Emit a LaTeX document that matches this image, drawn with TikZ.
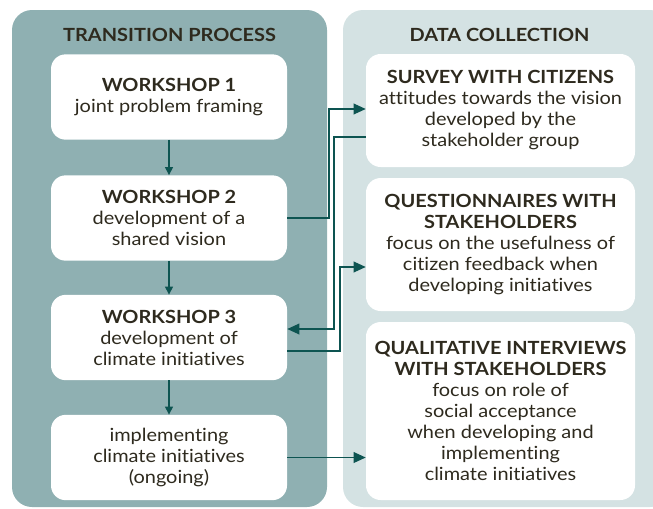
\documentclass[tikz,border=0pt]{standalone}
\usepackage{fontspec}
\setmainfont{Lato}[FakeStretch=1.1,Ligatures=NoCommon]
\usetikzlibrary{arrows.meta}

\definecolor{procfill}{HTML}{8FB0B2}
\definecolor{datafill}{HTML}{D4E2E3}
\definecolor{linkcol}{HTML}{0D5451}
\definecolor{ink}{HTML}{2E2A1E}

\begin{document}
\begin{tikzpicture}
[x=0.75pt,y=-0.75pt,
	every node/.style={text=ink,align=center,inner sep=0pt,
		font=\fontsize{13.6}{15.75}\selectfont},
	stage/.style={fill=white,rounded corners=11pt,minimum width=177pt,minimum height=64pt},
	method/.style={fill=white,rounded corners=11pt,minimum width=201.75pt},
	heading/.style={font=\fontsize{13.6}{15.75}\selectfont\bfseries},
	flow/.style={draw=linkcol,line width=1pt,-{Triangle[length=6pt,width=6pt]}},
	feed/.style={draw=linkcol,line width=1pt,-{Triangle[length=9pt,width=8pt]}}]

\useasboundingbox (0,0) rectangle (653,508);

% the two columns
\fill[procfill,rounded corners=15pt] (12,10) rectangle (327,507);
\fill[datafill,rounded corners=15pt] (343,10) rectangle (670,507);

\node[heading] (proc) at (169.5,35) {TRANSITION PROCESS};
\node[heading] (data) at (499.5,35) {DATA COLLECTION};

% transition process
\node[stage] (w1) at (169,97) {\textbf{WORKSHOP 1}\\joint problem framing};
\node[stage] (w2) at (169,218) {\textbf{WORKSHOP 2}\\development of a\\shared vision};
\node[stage] (w3) at (169,337.5) {\textbf{WORKSHOP 3}\\development of\\climate initiatives};
\node[stage] (w4) at (169,457.5) {implementing\\climate initiatives\\(ongoing)};

% data collection
\node[method,minimum height=84.75pt] (d1) at (500.5,110.5)
	{\textbf{SURVEY WITH CITIZENS}\\attitudes towards the vision\\developed by the\\stakeholder group};
\node[method,minimum height=99.75pt] (d2) at (500.5,244.5)
	{\textbf{QUESTIONNAIRES WITH}\\\textbf{STAKEHOLDERS}\\focus on the usefulness of\\citizen feedback when\\developing initiatives};
\node[method,minimum height=133.5pt] (d3) at (500.5,411)
	{\textbf{QUALITATIVE INTERVIEWS}\\\textbf{WITH STAKEHOLDERS}\\focus on role of\\social acceptance\\when developing and\\implementing\\climate initiatives};

\path
\foreach \startNode/\endNode in {w1/w2,w2/w3,w3/w4}
{
	(\startNode) edge[flow] (\endNode)
};

% bends of the links between the columns
\coordinate (b1) at (329,109);
\coordinate (b2) at (334,137);
\coordinate (b3) at (334,329);
\coordinate (b4) at (340,351);
\coordinate (b5) at (340,267);

\draw[feed] (w2.east) -| (b1) -- (b1 -| d1.west);
\draw[feed] (d1.west |- b2) -- (b2) -- (b3) -- (b3 -| w3.east);
\draw[feed] (w3.east |- b4) -- (b4) -- (b5) -- (b5 -| d2.west);
\draw[feed] (w4.east) -- (w4.east -| d3.west);
\end{tikzpicture}
\end{document}
